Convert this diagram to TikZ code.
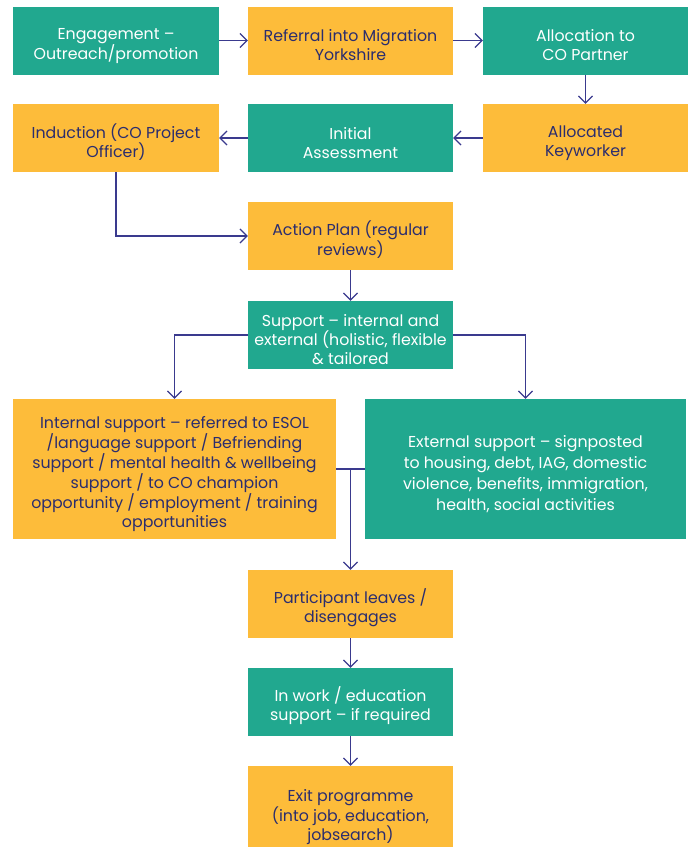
\documentclass[tikz,border=0pt]{standalone}
\usepackage{fontspec}
\setmainfont{Poppins}
\usetikzlibrary{arrows.meta,calc}
\definecolor{teal}{HTML}{21A88F}
\definecolor{yell}{HTML}{FDBC3A}
\definecolor{navy}{HTML}{2B2D6E}
\definecolor{arrc}{HTML}{3A3A8E}
\newcommand{\dropstrut}{\rule{0pt}{22pt}}
\tikzset{
  box/.style={rectangle, inner sep=2pt, align=center, minimum width=205pt, minimum height=68pt,
    font=\fontsize{15.8}{19}\selectfont},
  tbox/.style={box, fill=teal, text=white},
  ybox/.style={box, fill=yell, text=navy},
  arr/.style={draw=arrc, line width=1.2pt, -{Straight Barb[length=7pt,width=14pt,line width=1.2pt]}},
  ln/.style={draw=arrc, line width=1.2pt}
}
\begin{document}
\begin{tikzpicture}[x=1pt,y=-1pt]
\useasboundingbox (0,0) rectangle (692,847);
\node[tbox, minimum width=206pt] (eng) at (116,40.5) {\dropstrut Engagement –\\Outreach/promotion};
\node[ybox] (ref) at (350.5,40.5) {\dropstrut Referral into Migration\\Yorkshire};
\node[tbox] (alloc) at (585.5,40.5) {\dropstrut Allocation to\\CO Partner};
\node[ybox, minimum width=206pt] (ind) at (116,138) {\dropstrut Induction (CO Project\\Officer)};
\node[tbox] (init) at (350.5,138) {\dropstrut Initial\\Assessment};
\node[ybox] (allk) at (585.5,138) {\dropstrut Allocated\\Keyworker};
\node[ybox] (act) at (350.5,236) {\dropstrut Action Plan (regular\\reviews)};
\node[tbox] (sup) at (350.5,335) {\dropstrut Support – internal and\\external (holistic, flexible\\\& tailored};
\node[ybox, minimum width=323pt, minimum height=140pt, font=\fontsize{15.8}{18.5}\selectfont] (int) at (174.5,469) {\dropstrut Internal support – referred to ESOL\\/language support / Befriending\\support / mental health \& wellbeing\\support / to CO champion\\opportunity / employment / training\\opportunities};
\node[tbox, minimum width=321pt, minimum height=140pt, font=\fontsize{15.8}{21}\selectfont] (ext) at (525.5,469) {\dropstrut External support – signposted\\to housing, debt, IAG, domestic\\violence, benefits, immigration,\\health, social activities};
\node[ybox] (part) at (350.5,604) {\dropstrut Participant leaves /\\disengages};
\node[tbox] (work) at (350.5,702) {\dropstrut In work / education\\support – if required};
\node[ybox, minimum height=92pt] (exit) at (350.5,812) {\dropstrut Exit programme\\(into job, education,\\jobsearch)};
\draw[arr] (eng.east) -- (ref.west);
\draw[arr] (ref.east) -- (alloc.west);
\draw[arr] (alloc.south) -- (allk.north);
\draw[arr] (allk.west) -- (init.east);
\draw[arr] (init.west) -- (ind.east);
\draw[arr] (ind.south) |- (act.west);
\draw[arr] (act.south) -- (sup.north);
\draw[arr] (sup.west) -| (int.north);
\draw[arr] (sup.east) -| (ext.north);
\coordinate (j) at ($(int.east)!0.5!(ext.west)$);
\draw[ln] (int.east) -- (ext.west);
\draw[arr] (j) -- (j |- part.north);
\draw[arr] (part.south) -- (work.north);
\draw[arr] (work.south) -- (exit.north);
\end{tikzpicture}
\end{document}
